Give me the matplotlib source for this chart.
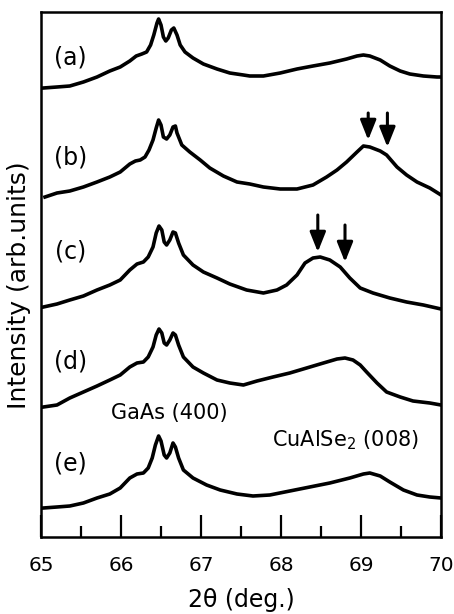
import matplotlib.pyplot as plt

plt.rcParams['font.family'] = ['DejaVu Sans']

# 2theta (deg) and intensity (arb. units, curves already stacked)
x_a = [65.03, 65.20, 65.36, 65.53, 65.70, 65.86, 65.99, 66.11, 66.19, 66.26, 66.32, 66.37, 66.41, 66.45,
       66.47, 66.50, 66.53, 66.56, 66.59, 66.63, 66.66, 66.70, 66.74, 66.80, 66.90, 67.03, 67.20, 67.36,
       67.53, 67.61, 67.78, 67.99, 68.20, 68.40, 68.61, 68.82, 68.95, 69.03, 69.11, 69.24, 69.36, 69.49,
       69.61, 69.78, 69.95, 70.0]
y_a = [449, 450, 451, 455, 460, 466, 470, 476, 481, 483, 485, 492, 502, 514,
       518, 512, 500, 496, 499, 507, 509, 502, 492, 485, 479, 473, 468, 464,
       462, 461, 461, 464, 468, 471, 474, 478, 481, 482, 481, 477, 471, 466,
       463, 461, 460, 460]

x_b = [65.05, 65.20, 65.36, 65.53, 65.70, 65.86, 65.99, 66.11, 66.18, 66.24, 66.30, 66.35, 66.40, 66.44,
       66.47, 66.50, 66.53, 66.57, 66.61, 66.65, 66.68, 66.70, 66.76, 66.86, 66.99, 67.11, 67.28, 67.45,
       67.61, 67.78, 67.99, 68.20, 68.40, 68.57, 68.70, 68.82, 68.95, 69.03, 69.11, 69.24, 69.32, 69.45,
       69.57, 69.70, 69.86, 70.0]
y_b = [340, 344, 346, 350, 355, 360, 365, 373, 376, 377, 380, 387, 397, 409,
       417, 412, 400, 398, 402, 410, 411, 404, 392, 385, 377, 369, 361, 355,
       353, 350, 348, 348, 352, 360, 367, 375, 385, 391, 390, 386, 382, 370,
       362, 355, 349, 342]

x_c = [65.03, 65.20, 65.36, 65.53, 65.70, 65.86, 65.99, 66.11, 66.20, 66.28, 66.34, 66.40, 66.44, 66.475,
       66.51, 66.54, 66.57, 66.61, 66.65, 66.68, 66.72, 66.78, 66.90, 67.03, 67.20, 67.36, 67.57, 67.78,
       67.95, 68.07, 68.20, 68.30, 68.40, 68.49, 68.61, 68.74, 68.86, 68.99, 69.15, 69.36, 69.57, 69.78,
       70.0]
y_c = [230, 233, 237, 241, 247, 252, 257, 267, 273, 275, 280, 290, 304, 311,
       307, 295, 292, 297, 305, 304, 294, 282, 272, 265, 259, 253, 247, 244,
       247, 252, 262, 274, 279, 280, 277, 270, 259, 249, 244, 239, 235, 232,
       228]

x_d = [65.03, 65.20, 65.36, 65.53, 65.70, 65.86, 65.99, 66.11, 66.20, 66.28, 66.34, 66.40, 66.44, 66.475,
       66.51, 66.54, 66.57, 66.61, 66.65, 66.68, 66.72, 66.78, 66.90, 67.03, 67.20, 67.36, 67.53, 67.70,
       67.90, 68.11, 68.32, 68.53, 68.70, 68.80, 68.90, 68.99, 69.07, 69.20, 69.32, 69.49, 69.65, 69.86,
       70.0]
y_d = [130, 132, 139, 145, 151, 157, 162, 170, 174, 175, 180, 190, 202, 208,
       204, 194, 192, 197, 204, 202, 192, 180, 170, 164, 157, 154, 152, 156,
       160, 164, 169, 174, 178, 179, 177, 172, 165, 154, 145, 140, 136, 134,
       132]

x_e = [65.03, 65.20, 65.36, 65.53, 65.70, 65.86, 65.99, 66.11, 66.20, 66.28, 66.34, 66.39, 66.43, 66.47,
       66.50, 66.54, 66.57, 66.61, 66.65, 66.68, 66.72, 66.78, 66.90, 67.07, 67.24, 67.45, 67.65, 67.86,
       68.11, 68.36, 68.61, 68.86, 69.03, 69.11, 69.24, 69.36, 69.53, 69.70, 69.86, 70.0]
y_e = [29, 30, 31, 34, 39, 43, 49, 59, 63, 64, 69, 79, 92, 101,
       96, 82, 79, 84, 94, 90, 79, 67, 59, 52, 47, 43, 41, 42,
       46, 50, 54, 59, 63, 64, 61, 55, 47, 42, 40, 39]

curves = [(x_a, y_a), (x_b, y_b), (x_c, y_c), (x_d, y_d), (x_e, y_e)]
labels = ['(a)', '(b)', '(c)', '(d)', '(e)']
label_y = [480, 379, 286, 176, 74]

# arrows: (x, top, tip)
arrows = [(69.09, 424, 397), (69.33, 424, 390), (68.46, 322, 285), (68.80, 312, 275)]

fig = plt.figure(figsize=(4.54, 6.14), dpi=100)
ax = fig.add_axes([41 / 454, 77 / 614, 400 / 454, 525 / 614])

for (xs, ys), lab, ly in zip(curves, labels, label_y):
    ax.plot(xs, ys, color='k', lw=2.6, solid_joinstyle='round')
    ax.text(65.37, ly, lab, fontsize=17, ha='center', va='center')

for x, top, tip in arrows:
    ax.annotate('', xy=(x, tip), xytext=(x, top),
                arrowprops=dict(arrowstyle='-|>,head_length=0.8,head_width=0.32',
                                mutation_scale=15, lw=2.2, color='k', shrinkA=0, shrinkB=0))

ax.text(66.6, 124, 'GaAs (400)', fontsize=15, ha='center', va='center')
ax.text(68.81, 97, 'CuAlSe$_2$ (008)', fontsize=15, ha='center', va='center')

ax.set_xlim(65, 70)
ax.set_ylim(0, 525)
ax.set_xticks([65, 66, 67, 68, 69, 70])
ax.set_xticks([65.5, 66.5, 67.5, 68.5, 69.5], minor=True)
ax.set_yticks([])
ax.tick_params(axis='x', which='major', direction='in', length=16, width=1.6, labelsize=14.5, pad=14)
ax.tick_params(axis='x', which='minor', direction='in', length=8, width=1.6)
for s in ax.spines.values():
    s.set_linewidth(1.8)

ax.set_xlabel('2θ (deg.)', fontsize=17, labelpad=9)
ax.set_ylabel('Intensity (arb.units)', fontsize=18)
ax.yaxis.set_label_coords(-0.025, 0.48)

fig.savefig('out.png', dpi=100)
